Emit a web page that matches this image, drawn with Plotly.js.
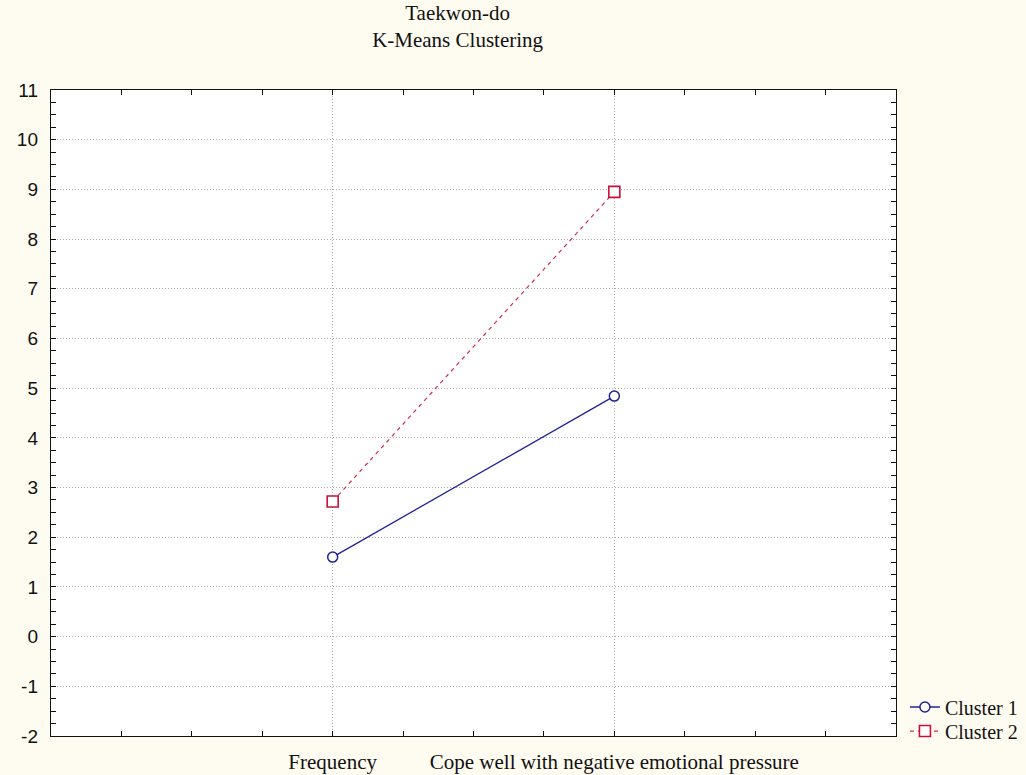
<!DOCTYPE html>
<html><head><meta charset="utf-8">
<script src="https://cdn.plot.ly/plotly-3.0.1.min.js"></script>
<style>html,body{margin:0;padding:0;background:#fefbf0;}</style>
</head><body>
<div id="chart" style="width:1026px;height:775px;"></div>
<script>
const categories = ["Frequency", "Cope well with negative emotional pressure"];
const categoryPos = [1, 2];
const cluster1 = [1.6, 4.84];
const cluster2 = [2.72, 8.95];
const seriesNames = ["Cluster 1", "Cluster 2"];
const yTickVals = [-2, -1, 0, 1, 2, 3, 4, 5, 6, 7, 8, 9, 10, 11];
const yTickText = yTickVals.map(v => String(v));

const traces = [
  {x: categoryPos, y: cluster1, name: seriesNames[0], type: 'scatter', mode: 'lines+markers',
   legend: 'legend',
   line: {color: '#22229a', width: 1.3},
   marker: {symbol: 'circle', size: 10, color: '#ffffff', line: {width: 1.5, color: '#22229a'}}},
  {x: categoryPos, y: cluster2, name: seriesNames[1], type: 'scatter', mode: 'lines+markers',
   legend: 'legend2',
   line: {color: '#c8304f', width: 1.2, dash: '4px,4px'},
   marker: {symbol: 'square', size: 11, color: '#ffffff', line: {width: 1.6, color: '#c8103a'}}}
];

const legendFont = {family: 'Liberation Serif, Times New Roman, serif', size: 20, color: '#111'};
const layout = {
  width: 1026, height: 775,
  paper_bgcolor: '#fefbf0', plot_bgcolor: '#ffffff',
  margin: {l: 51, r: 130, t: 90, b: 39},
  showlegend: true,
  title: {text: 'Taekwon-do<br>K-Means Clustering', x: 0.446, xanchor: 'center', y: 0.974, yanchor: 'top',
          font: {family: 'Liberation Serif, Times New Roman, serif', size: 21, color: '#111'}},
  xaxis: {
    range: [0, 3], tickvals: categoryPos, ticktext: categories,
    showline: true, linecolor: '#111', linewidth: 1.2, mirror: 'ticks',
    ticks: 'inside', ticklen: 5, tickcolor: '#111',
    showgrid: true, gridcolor: '#aaaaaa', griddash: '1px,2px', gridwidth: 1,
    minor: {dtick: 0.25, tick0: 0, ticks: 'inside', ticklen: 5, tickcolor: '#111', showgrid: false},
    zeroline: false,
    tickfont: {family: 'Liberation Serif, Times New Roman, serif', size: 21, color: '#111'},
    ticklabelstandoff: 7, fixedrange: true
  },
  yaxis: {
    range: [-2, 11], tickvals: yTickVals, ticktext: yTickText,
    showline: true, linecolor: '#111', linewidth: 1.2, mirror: 'ticks',
    ticks: 'inside', ticklen: 5, tickcolor: '#111',
    showgrid: true, gridcolor: '#aaaaaa', griddash: '1px,2px', gridwidth: 1,
    minor: {dtick: 0.25, tick0: 0, ticks: 'inside', ticklen: 5, tickcolor: '#111', showgrid: false},
    zeroline: false,
    tickfont: {family: 'Liberation Sans, Arial, sans-serif', size: 19, color: '#111'},
    ticklabelstandoff: 8, fixedrange: true
  },
  legend: {xref: 'container', yref: 'container', x: 0.882, xanchor: 'left', y: 0.1129, yanchor: 'top',
           bgcolor: 'rgba(0,0,0,0)', font: legendFont, itemwidth: 30},
  legend2: {xref: 'container', yref: 'container', x: 0.882, xanchor: 'left', y: 0.0819, yanchor: 'top',
           bgcolor: 'rgba(0,0,0,0)', font: legendFont, itemwidth: 30}
};
Plotly.newPlot('chart', traces, layout, {displayModeBar: false, staticPlot: true});
</script>
</body></html>
